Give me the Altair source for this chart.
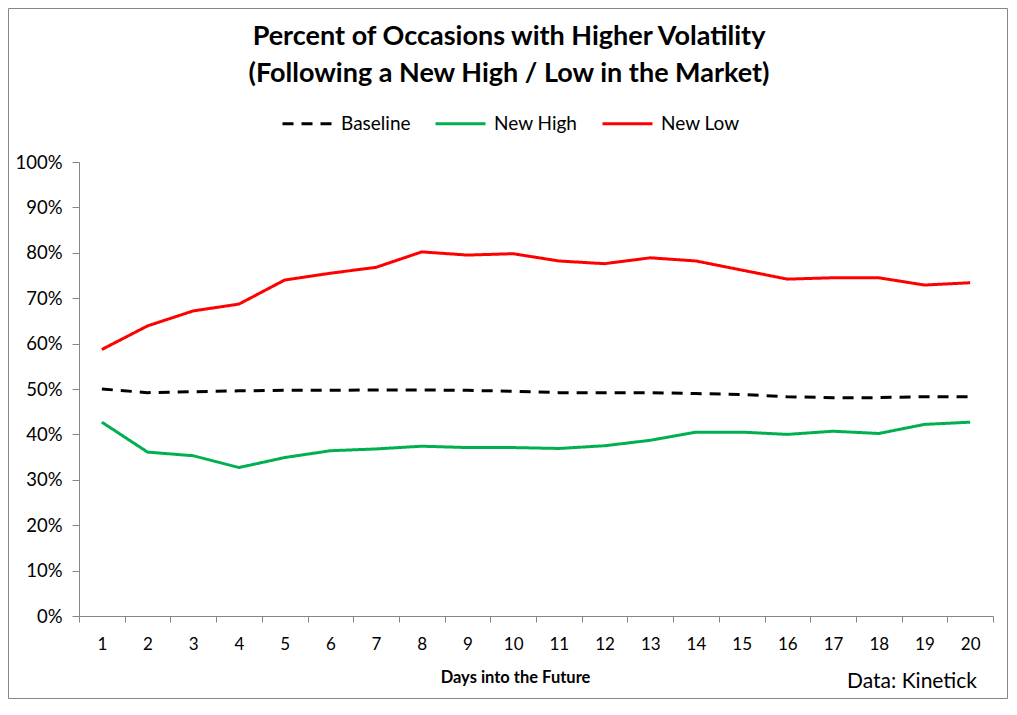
"""Percent of occasions with higher volatility after a new market high / low."""

import altair as alt
import pandas as pd

days = list(range(1, 21))
baseline = [50.0, 49.2, 49.4, 49.6, 49.7, 49.7, 49.8, 49.8, 49.7, 49.5,
            49.2, 49.2, 49.2, 49.0, 48.8, 48.3, 48.1, 48.1, 48.3, 48.3]
new_high = [42.7, 36.1, 35.3, 32.7, 34.9, 36.4, 36.8, 37.4, 37.1, 37.1,
            36.9, 37.5, 38.7, 40.5, 40.5, 40.0, 40.7, 40.2, 42.2, 42.7]
new_low = [58.7, 63.9, 67.2, 68.7, 74.0, 75.5, 76.8, 80.2, 79.5, 79.8,
           78.2, 77.6, 78.9, 78.2, 76.2, 74.2, 74.5, 74.5, 72.9, 73.4]
series = ["Baseline", "New High", "New Low"]
colours = ["#000000", "#00B050", "#FF0000"]
dashes = [[11, 8], [1, 0], [1, 0]]

rows = []
for name, vals in zip(series, [baseline, new_high, new_low]):
    for d, v in zip(days, vals):
        rows.append({"day": d, "series": name, "pct": v / 100})
df = pd.DataFrame(rows)

FONT = "Lato"
GREY = "#868686"
W, H = 914, 454
PAD = {"left": 71, "top": 154, "right": 15, "bottom": 83}

x = alt.X(
    "day:O", title="Days into the Future", bandPosition=0.5,
    scale=alt.Scale(type="band", paddingInner=0, paddingOuter=0),
    axis=alt.Axis(labelAngle=0, tickBand="extent", tickSize=6, labelPadding=14,
                  domainColor=GREY, tickColor=GREY, labelFontSize=17,
                  titleFontSize=16.5, titleFontWeight="bold", titleX=436,
                  titleY=66, titleBaseline="alphabetic", titleAnchor="middle",
                  titleAlign="center"),
)
y = alt.Y(
    "pct:Q", title=None,
    scale=alt.Scale(domain=[0, 1], nice=False),
    axis=alt.Axis(format=".0%", values=[i / 10 for i in range(11)], grid=False,
                  tickSize=7, labelPadding=10, domainColor=GREY, tickColor=GREY,
                  labelFontSize=18.5),
)

lines = alt.Chart(df).mark_line(strokeWidth=3).encode(
    x=x, y=y,
    color=alt.Color("series:N", scale=alt.Scale(domain=series, range=colours),
                    legend=alt.Legend(title=None, orient="none", direction="horizontal",
                                      legendX=202, legendY=-65, symbolType="stroke",
                                      symbolSize=2500, symbolStrokeWidth=3,
                                      labelOffset=7, columnPadding=18, padding=0,
                                      labelFontSize=19)),
    strokeDash=alt.StrokeDash("series:N", scale=alt.Scale(domain=series, range=dashes),
                              legend=None),
)

source = alt.Chart(pd.DataFrame({"t": ["Data: Kinetick"]})).mark_text(
    align="right", baseline="alphabetic", fontSize=21, font=FONT
).encode(x=alt.value(898), y=alt.value(526), text="t:N")

border = alt.Chart(pd.DataFrame({"b": [0]})).mark_rect(
    fill=None, stroke=GREY, strokeWidth=1
).encode(x=alt.value(-PAD["left"] + 0.5), x2=alt.value(W + PAD["right"] - 0.5),
         y=alt.value(-PAD["top"] + 0.5), y2=alt.value(H + PAD["bottom"] - 0.5))

chart = (border + lines + source).properties(
    width=W, height=H,
    autosize=alt.AutoSizeParams(type="none"),
    padding=PAD,
    title=alt.TitleParams(
        ["Percent of Occasions with Higher Volatility",
         "(Following a New High / Low in the Market)"],
        fontSize=27, font=FONT, fontWeight="bold", anchor="middle",
        dx=-27, offset=-80, lineHeight=37, color="#000000",
    ),
).configure(font=FONT).configure_view(stroke=None).configure_axis(
    labelFont=FONT, titleFont=FONT, labelColor="#000000", titleColor="#000000"
).configure_legend(labelFont=FONT, labelColor="#000000")

chart.save("out.html", embed_options={"renderer": "svg", "actions": False})
